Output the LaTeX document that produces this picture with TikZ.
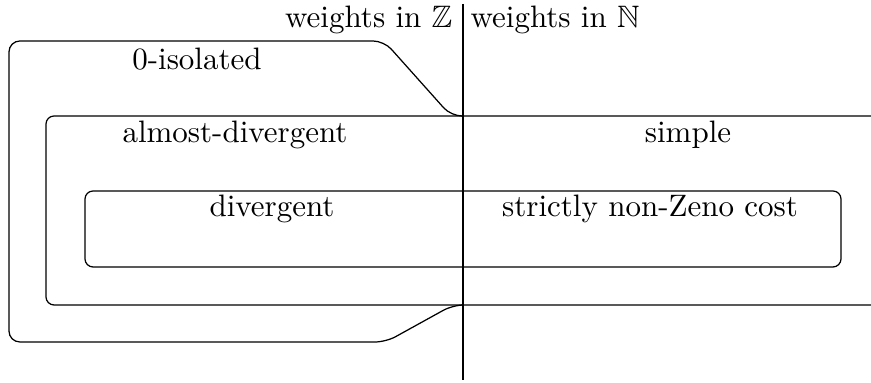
\documentclass[tikz,border=0pt]{standalone}
\usepackage{amssymb}
\begin{document}
\begin{tikzpicture}[x=0.3226pt,y=-0.3226pt,
  lbl/.style={inner sep=0pt,anchor=base},
  frame/.style={line width=0.4pt,rounded corners=2.6pt},
  divider/.style={line width=0.85pt}]
\useasboundingbox (0,0) rectangle (871,383);
% vertical divider
\coordinate (dtop) at (463,4);
\coordinate (dbot) at (463,380);
\draw[divider] (dtop) -- (dbot);
% headers
\node[lbl,anchor=base east] (wz) at (453,28) {weights in $\mathbb{Z}$};
\node[lbl,anchor=base west] (wn) at (470,28) {weights in $\mathbb{N}$};
% outer 0-isolated shape
\draw[frame,rounded corners=3.5pt] (463,305) -- (453,305) -- (386,342) -- (9,342) -- (9,41) -- (384,41) -- (451,116) -- (463,116);
\node[lbl] (iso) at (197,70) {0-isolated};
% middle open box
\draw[frame] (871,116) -- (46,116) -- (46,305) -- (871,305);
\node[lbl] (ad) at (235,143) {almost-divergent};
\node[lbl] (sim) at (688,143) {simple};
% inner box
\draw[frame] (85,191) rectangle (841,267);
\node[lbl] (div) at (272,217) {divergent};
\node[lbl] (snz) at (650,217) {strictly non-Zeno cost};
\end{tikzpicture}
\end{document}
